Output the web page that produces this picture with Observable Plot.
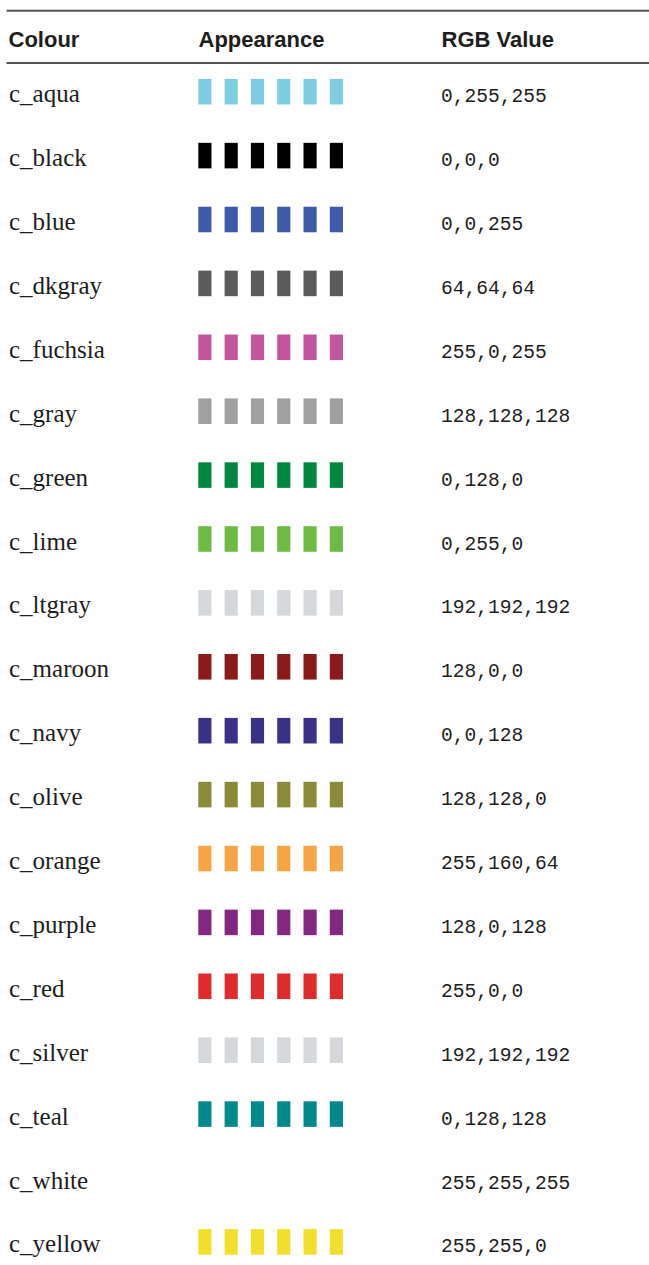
<!DOCTYPE html>
<html>
<head>
<meta charset="utf-8">
<script src="https://cdn.jsdelivr.net/npm/d3@7"></script>
<script src="https://cdn.jsdelivr.net/npm/@observablehq/plot@0.6"></script>
<style>
  html, body { margin: 0; padding: 0; background: #fff; }
  #chart svg { display: block; }
</style>
</head>
<body>
<div id="chart"></div>
<script>
// ---- data ----
const headers = ["Colour", "Appearance", "RGB Value"];
const colourNames = ["c_aqua", "c_black", "c_blue", "c_dkgray", "c_fuchsia", "c_gray", "c_green", "c_lime", "c_ltgray", "c_maroon", "c_navy", "c_olive", "c_orange", "c_purple", "c_red", "c_silver", "c_teal", "c_white", "c_yellow"];
const swatchColours = ["#7fcde2", "#000000", "#3e5aa8", "#5b5b5b", "#c1569f", "#a0a0a0", "#00873f", "#6dbb45", "#d5d8da", "#8b1a1a", "#3a3287", "#8a8a38", "#f7a445", "#822880", "#de2b2c", "#d5d8da", "#00898a", "#ffffff", "#f2df2c"];
const rgbValues = ["0,255,255", "0,0,0", "0,0,255", "64,64,64", "255,0,255", "128,128,128", "0,128,0", "0,255,0", "192,192,192", "128,0,0", "0,0,128", "128,128,0", "255,160,64", "128,0,128", "255,0,0", "192,192,192", "0,128,128", "255,255,255", "255,255,0"];
const swatchIndex = [0, 1, 2, 3, 4, 5];

// ---- layout (styles/positions) ----
const headerX = [8, 198, 441];
const ink = "#1d1d1d";
const ruleColour = "#555555";

const rows = colourNames.map((name, i) => ({name, colour: swatchColours[i], rgb: rgbValues[i]}));
const swatches = rows.flatMap(r => swatchIndex.map(k => ({name: r.name, k, colour: r.colour})));

const chart = Plot.plot({
  width: 649,
  height: 1265,
  margin: 0,
  x: {type: "band", domain: swatchIndex, range: [198.3, 342.95], paddingInner: 0.5, paddingOuter: 0, round: false, axis: null},
  y: {type: "band", domain: colourNames, range: [59.75, 1273.85], paddingInner: 0.6, paddingOuter: 0.3, round: false, axis: null},
  marks: [
    Plot.frame({anchor: "top", insetTop: 10.3, insetLeft: 7, stroke: ruleColour, strokeWidth: 2}),
    Plot.frame({anchor: "top", insetTop: 62.5, insetLeft: 7, stroke: ruleColour, strokeWidth: 2}),
    ...headers.map((h, i) => Plot.text([h], {
      text: d => d, frameAnchor: "top-left", lineAnchor: "bottom", dx: headerX[i], dy: 46.7,
      textAnchor: "start", fontFamily: "Liberation Sans, Arial, sans-serif", fontWeight: "bold",
      fontSize: 22, fill: ink
    })),
    Plot.cell(swatches, {x: "k", y: "name", fill: d => d.colour}),
    Plot.text(rows, {
      y: "name", text: "name", frameAnchor: "left", textAnchor: "start", lineAnchor: "bottom",
      dx: 8.5, dy: 10, fontFamily: "Liberation Serif, serif", fontSize: 25, fill: ink
    }),
    Plot.text(rows, {
      y: "name", text: "rgb", frameAnchor: "left", textAnchor: "start", lineAnchor: "bottom",
      dx: 440.5, dy: 10, fontFamily: "Liberation Mono, monospace", fontSize: 19.6, fill: ink
    })
  ]
});
document.getElementById("chart").appendChild(chart);
</script>
</body>
</html>
